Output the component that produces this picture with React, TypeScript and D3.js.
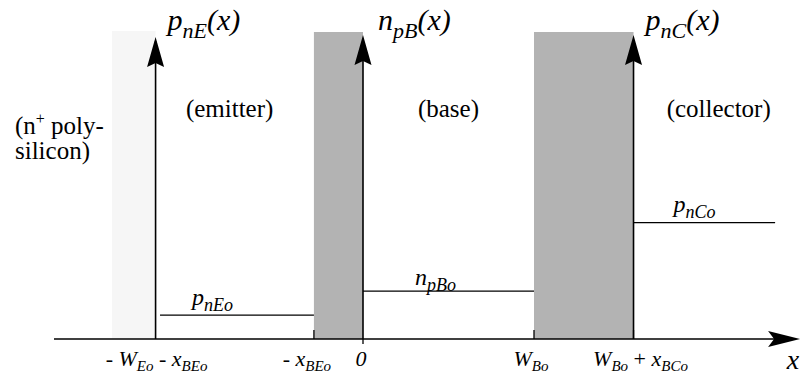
import React, { useEffect, useRef } from 'react';
import * as d3 from 'd3';

// x positions in units of W_Bo (0 = base edge of the emitter-base depletion region)
const axisExtent = [-1.807, 2.556];
const polyRegion = [-1.468, -1.213];
const depletionRegions = [[-0.287, 0], [1, 1.582]];
const yAxesAt = [-1.213, 0, 1.582];
const tickAt = [-0.287, 1, 1.582];

// equilibrium minority carrier levels (normalised, top of the boxes = 1)
const levelValues = [0.078, 0.156, 0.379];
const levelSpans = [[-1.187, -0.287], [0, 1], [1.582, 2.41]];

type Seg = [string, 'i' | 's' | 'r'];

const topLabels: Seg[][] = [
  [['p', 'i'], ['nE', 's'], ['(x)', 'i']],
  [['n', 'i'], ['pB', 's'], ['(x)', 'i']],
  [['p', 'i'], ['nC', 's'], ['(x)', 'i']],
];
const levelLabels: Seg[][] = [
  [['p', 'i'], ['nEo', 's']],
  [['n', 'i'], ['pBo', 's']],
  [['p', 'i'], ['nCo', 's']],
];
const tickLabels: Seg[][] = [
  [['- ', 'r'], ['W', 'i'], ['Eo', 's'], [' - ', 'r'], ['x', 'i'], ['BEo', 's']],
  [['- ', 'r'], ['x', 'i'], ['BEo', 's']],
  [['0', 'i']],
  [['W', 'i'], ['Bo', 's']],
  [['W', 'i'], ['Bo', 's'], [' + ', 'r'], ['x', 'i'], ['BCo', 's']],
];
const tickLabelAt = [-1.213, -0.287, 0, 1, 1.582];
const regionNames = ['(emitter)', '(base)', '(collector)'];
const regionAt = [-0.78, 0.5, 2.08];

const FONT = "'Liberation Serif', monospace";

const Diagram = () => {
  const svgRef = useRef<SVGSVGElement>(null);

  useEffect(() => {
    const width = 801;
    const height = 375;
    const svg = d3.select(svgRef.current);
    svg.selectAll('*').remove();
    svg.attr('width', width).attr('height', height)
      .style('position', 'absolute').style('left', '0px').style('top', '0px');

    const x = d3.scaleLinear().domain([0, 1]).range([363, 534]);
    const y = d3.scaleLinear().domain([0, 1]).range([339, 32]);
    const y0 = y(0);
    const xEnd = x(axisExtent[1]);

    svg.append('rect').attr('width', width).attr('height', height).attr('fill', '#fff');

    // poly-silicon contact and depletion regions
    svg.append('rect')
      .attr('x', x(polyRegion[0])).attr('y', 31)
      .attr('width', x(polyRegion[1]) - x(polyRegion[0])).attr('height', y0 - 31)
      .attr('fill', '#f6f6f6');
    svg.selectAll('rect.dep').data(depletionRegions).enter().append('rect')
      .attr('class', 'dep')
      .attr('x', d => x(d[0])).attr('y', y(1))
      .attr('width', d => x(d[1]) - x(d[0])).attr('height', y0 - y(1))
      .attr('fill', '#b3b3b3');

    // equilibrium levels
    svg.selectAll('line.level').data(levelValues).enter().append('line')
      .attr('x1', (d, i) => x(levelSpans[i][0])).attr('x2', (d, i) => x(levelSpans[i][1]))
      .attr('y1', d => y(d)).attr('y2', d => y(d))
      .attr('stroke', '#000').attr('stroke-width', 1.3);

    // ticks
    tickAt.forEach(t => {
      svg.append('line').attr('x1', x(t)).attr('x2', x(t)).attr('y1', y0 - 9).attr('y2', y0)
        .attr('stroke', '#000').attr('stroke-width', 1.3);
    });
    svg.append('line').attr('x1', x(0)).attr('x2', x(0)).attr('y1', y0).attr('y2', y0 + 5)
      .attr('stroke', '#000').attr('stroke-width', 1.3);

    // vertical axes with arrow heads
    yAxesAt.forEach((a, i) => {
      const cx = x(a);
      const tip = y(0.99) + (i === 0 ? 2 : 0);
      svg.append('line').attr('x1', cx).attr('x2', cx).attr('y1', y0).attr('y2', y(0.97))
        .attr('stroke', '#000').attr('stroke-width', 1.6);
      svg.append('path')
        .attr('d', `M${cx},${tip} L${cx + 8.5},${tip + 30} L${cx},${tip + 26} L${cx - 8.5},${tip + 30} Z`)
        .attr('fill', '#000');
    });

    // x axis
    svg.append('line').attr('x1', x(axisExtent[0])).attr('x2', xEnd - 20).attr('y1', y0).attr('y2', y0)
      .attr('stroke', '#000').attr('stroke-width', 1.6);
    svg.append('path')
      .attr('d', `M${xEnd},${y0} L${xEnd - 32},${y0 - 8} L${xEnd - 26},${y0} L${xEnd - 32},${y0 + 8} Z`)
      .attr('fill', '#000');

    const label = (segs: Seg[], px: number, py: number, size: number, sub: number, shift: number, anchor = 'start') => {
      const t = svg.append('text').attr('x', px).attr('y', py)
        .attr('text-anchor', anchor).style('font-family', FONT).style('font-size', `${size}px`);
      let cur = 0;
      segs.forEach(([s, k]) => {
        const target = k === 's' ? shift : 0;
        t.append('tspan').attr('dy', target - cur)
          .style('font-family', FONT)
          .style('font-size', `${k === 's' ? sub : size}px`)
          .style('font-style', k === 'r' ? 'normal' : 'italic')
          .style('white-space', 'pre')
          .text(s);
        cur = target;
      });
    };

    const topOffsets = [12, 15, 12];
    topLabels.forEach((segs, i) => label(segs, x(yAxesAt[i]) + topOffsets[i], 30, 30, 22, 8));

    const levelOffsets = [32, 52, 40];
    const levelRaise = [10, 6, 10.5];
    levelLabels.forEach((segs, i) =>
      label(segs, x(levelSpans[i][0]) + levelOffsets[i], y(levelValues[i]) - levelRaise[i], 24, 18, 6));

    const tickLabelShift = [1, -7, -2, -3, 7];
    tickLabels.forEach((segs, i) =>
      label(segs, x(tickLabelAt[i]) + tickLabelShift[i], 366, 22, 15, 5, 'middle'));

    svg.append('text').attr('x', xEnd - 1).attr('y', 369).attr('text-anchor', 'end')
      .style('font-family', FONT).style('font-size', '28px').style('font-style', 'italic').text('x');

    regionNames.forEach((n, i) => {
      svg.append('text').attr('x', x(regionAt[i])).attr('y', 117).attr('text-anchor', 'middle')
        .style('font-family', FONT).style('font-size', '25px').text(n);
    });

    const poly = svg.append('text').attr('x', 15).attr('y', 134)
      .style('font-family', FONT).style('font-size', '25px');
    poly.append('tspan').text('(n');
    poly.append('tspan').attr('dy', -10).style('font-size', '16px').text('+');
    poly.append('tspan').attr('dy', 10).style('white-space', 'pre').text(' poly-');
    svg.append('text').attr('x', 15).attr('y', 159)
      .style('font-family', FONT).style('font-size', '25px').text('silicon)');
  }, []);

  return <svg ref={svgRef}></svg>;
};

export default function App() {
  return <Diagram />;
}
